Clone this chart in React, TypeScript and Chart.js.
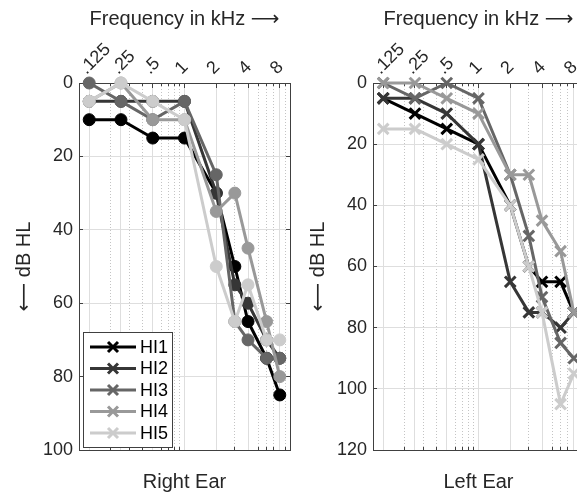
import React, { useEffect, useRef } from 'react';
import { Chart, registerables } from 'chart.js';

Chart.register(...registerables);

// ---------- data ----------
const FREQS = [0.125, 0.25, 0.5, 1, 2, 3, 4, 6, 8];
const MAJOR_TICKS = [0.125, 0.25, 0.5, 1, 2, 4, 8];
const MAJOR_LABELS = ['.125', '.25', '.5', '1', '2', '4', '8'];
const MINOR_TICKS = [0.2, 0.3, 0.4, 0.5, 0.6, 0.7, 0.8, 0.9, 1, 2, 3, 4, 5, 6, 7, 8, 9];
const SERIES = ['HI1', 'HI2', 'HI3', 'HI4', 'HI5'];
const COLORS = ['#000000', '#363636', '#666666', '#999999', '#cccccc'];

// Right Ear (left panel)
const RIGHT_HI1 = [10, 10, 15, 15, 30, 50, 65, 75, 85];
const RIGHT_HI2 = [5, 5, 5, 5, 30, 55, 60, 70, 75];
const RIGHT_HI3 = [0, 5, 10, 5, 25, 65, 70, 75, 75];
const RIGHT_HI4 = [5, 0, 10, 10, 35, 30, 45, 65, 80];
const RIGHT_HI5 = [5, 0, 5, 10, 50, 65, 55, 70, 70];

// Left Ear (right panel)
const LEFT_HI1 = [5, 10, 15, 20, 40, 60, 65, 65, 75];
const LEFT_HI2 = [5, 5, 10, 20, 65, 75, 75, 80, 75];
const LEFT_HI3 = [0, 5, 0, 5, 30, 50, 70, 85, 90];
const LEFT_HI4 = [0, 0, 5, 10, 30, 30, 45, 55, 75];
const LEFT_HI5 = [15, 15, 20, 25, 40, 60, 75, 105, 95];

const X_TITLE = 'Frequency in kHz \u27F6';
const Y_TITLE = '\u27F5 dB HL';

const FONT = "'Liberation Sans', Arial, Helvetica, 'DejaVu Sans', sans-serif";
const TEXT = '#262626';
const AXIS = '#404040';

type Panel = {
  series: number[][];
  yMax: number;
  pointStyle: string;
  pointRadius: number;
  bottomTitle: string;
  yWidth: number;
  yTitlePad: number;
  padRight: number;
  legend: boolean;
};

const LEFT_PANEL: Panel = {
  series: [RIGHT_HI1, RIGHT_HI2, RIGHT_HI3, RIGHT_HI4, RIGHT_HI5],
  yMax: 100,
  pointStyle: 'circle',
  pointRadius: 6,
  bottomTitle: 'Right Ear',
  yWidth: 79,
  yTitlePad: 12,
  padRight: 10,
  legend: true,
};

const RIGHT_PANEL: Panel = {
  series: [LEFT_HI1, LEFT_HI2, LEFT_HI3, LEFT_HI4, LEFT_HI5],
  yMax: 120,
  pointStyle: 'crossRot',
  pointRadius: 7.5,
  bottomTitle: 'Left Ear',
  yWidth: 83,
  yTitlePad: 16,
  padRight: 16,
  legend: false,
};

const boxLegend = {
  id: 'boxLegend',
  afterDraw(chart: any, _args: any, opts: any) {
    if (!opts || !opts.show) return;
    const { ctx, chartArea } = chart;
    const x0 = Math.round(chartArea.left) + 4;
    const w = 89;
    const h = 115;
    const y0 = Math.round(chartArea.bottom) - 3 - h;
    ctx.save();
    ctx.fillStyle = '#ffffff';
    ctx.fillRect(x0, y0, w, h);
    ctx.strokeStyle = AXIS;
    ctx.lineWidth = 1;
    ctx.strokeRect(x0 + 0.5, y0 + 0.5, w, h);
    chart.data.datasets.forEach((ds: any, i: number) => {
      const cy = y0 + 15 + i * 21.5;
      ctx.strokeStyle = ds.borderColor;
      ctx.lineWidth = 3;
      ctx.lineCap = 'butt';
      ctx.beginPath();
      ctx.moveTo(x0 + 7, cy);
      ctx.lineTo(x0 + 53, cy);
      ctx.stroke();
      const cx = x0 + 30;
      const r = 5;
      ctx.beginPath();
      ctx.moveTo(cx - r, cy - r);
      ctx.lineTo(cx + r, cy + r);
      ctx.moveTo(cx - r, cy + r);
      ctx.lineTo(cx + r, cy - r);
      ctx.stroke();
      ctx.fillStyle = '#000000';
      ctx.font = `18px ${FONT}`;
      ctx.textBaseline = 'middle';
      ctx.textAlign = 'left';
      ctx.fillText(ds.label, x0 + 57, cy + 1);
    });
    ctx.restore();
  },
};

function makeConfig(p: Panel): any {
  const tickFont = { family: FONT, size: 18 };
  const titleFont = { family: FONT, size: 20 };
  return {
    type: 'line',
    data: {
      datasets: p.series.map((vals, i) => ({
        label: SERIES[i],
        data: FREQS.map((f, j) => ({ x: f, y: vals[j] })),
        borderColor: COLORS[i],
        backgroundColor: COLORS[i],
        pointBackgroundColor: COLORS[i],
        pointBorderColor: COLORS[i],
        borderWidth: 3,
        borderJoinStyle: 'round',
        pointStyle: p.pointStyle,
        pointRadius: p.pointRadius,
        pointHoverRadius: p.pointRadius,
        pointBorderWidth: p.pointStyle === 'circle' ? 1 : 3,
        tension: 0,
        fill: false,
        clip: false,
        order: 5 - i,
        xAxisID: 'x',
        yAxisID: 'y',
      })),
    },
    plugins: [boxLegend],
    options: {
      responsive: false,
      animation: false,
      events: [],
      layout: { padding: { left: 0, top: 0, bottom: 0, right: p.padRight } },
      plugins: {
        legend: { display: false },
        tooltip: { enabled: false },
        title: { display: false },
        boxLegend: { show: p.legend },
      },
      scales: {
        xMinor: {
          type: 'logarithmic',
          position: 'bottom',
          min: 0.1,
          max: 10,
          afterBuildTicks: (s: any) => {
            s.ticks = MINOR_TICKS.map((v) => ({ value: v }));
          },
          ticks: { display: false, autoSkip: false },
          grid: {
            color: '#c4c4c4',
            lineWidth: 1,
            drawTicks: true,
            tickLength: -3,
            tickColor: AXIS,
            tickWidth: 1,
            z: -2,
          },
          border: { display: true, color: AXIS, width: 1, dash: [1, 2] },
          title: {
            display: true,
            text: p.bottomTitle,
            font: titleFont,
            color: TEXT,
            padding: { top: 0, bottom: 0 },
          },
          afterFit: (s: any) => {
            s.height = 44;
          },
        },
        xMinorTop: {
          type: 'logarithmic',
          position: 'top',
          min: 0.1,
          max: 10,
          afterBuildTicks: (s: any) => {
            s.ticks = MINOR_TICKS.map((v) => ({ value: v }));
          },
          ticks: { display: false, autoSkip: false },
          grid: {
            drawOnChartArea: false,
            drawTicks: true,
            tickLength: -3,
            tickColor: AXIS,
            tickWidth: 1,
          },
          border: { display: false },
          afterFit: (s: any) => {
            s.height = 0;
          },
        },
        x: {
          type: 'logarithmic',
          position: 'top',
          min: 0.1,
          max: 10,
          afterBuildTicks: (s: any) => {
            s.ticks = MAJOR_TICKS.map((v) => ({ value: v }));
          },
          ticks: {
            autoSkip: false,
            minRotation: 45,
            maxRotation: 45,
            font: tickFont,
            color: TEXT,
            padding: 9,
            labelOffset: 9,
            callback: (_v: any, i: number) => MAJOR_LABELS[i],
          },
          grid: {
            color: '#dedede',
            lineWidth: 1,
            drawTicks: true,
            tickLength: -5,
            tickColor: AXIS,
            tickWidth: 1,
          },
          border: { display: true, color: AXIS, width: 1 },
          title: {
            display: true,
            text: X_TITLE,
            font: titleFont,
            color: TEXT,
            padding: { top: 7, bottom: 0 },
          },
          afterFit: (s: any) => {
            s.height = 83;
          },
        },
        y: {
          type: 'linear',
          position: 'left',
          reverse: true,
          min: 0,
          max: p.yMax,
          ticks: { stepSize: 20, font: tickFont, color: TEXT, padding: 10 },
          grid: {
            color: '#dedede',
            lineWidth: 1,
            drawTicks: true,
            tickLength: -4,
            tickColor: AXIS,
            tickWidth: 1,
          },
          border: { display: true, color: AXIS, width: 1 },
          title: {
            display: true,
            text: Y_TITLE,
            font: titleFont,
            color: TEXT,
            padding: { top: p.yTitlePad, bottom: 0 },
          },
          afterFit: (s: any) => {
            s.width = p.yWidth;
          },
        },
        yRight: {
          type: 'linear',
          position: 'right',
          reverse: true,
          min: 0,
          max: p.yMax,
          ticks: { display: false, stepSize: 20 },
          grid: {
            drawOnChartArea: false,
            drawTicks: true,
            tickLength: -4,
            tickColor: AXIS,
            tickWidth: 1,
          },
          border: { display: true, color: AXIS, width: 1 },
          afterFit: (s: any) => {
            s.width = 0;
          },
        },
      },
    },
  };
}

export default function App() {
  const leftRef = useRef<HTMLCanvasElement>(null);
  const rightRef = useRef<HTMLCanvasElement>(null);

  useEffect(() => {
    document.body.style.margin = '0';
    const c1 = new Chart(leftRef.current as HTMLCanvasElement, makeConfig(LEFT_PANEL));
    const c2 = new Chart(rightRef.current as HTMLCanvasElement, makeConfig(RIGHT_PANEL));
    return () => {
      c1.destroy();
      c2.destroy();
    };
  }, []);

  return (
    <div
      style={{
        position: 'fixed',
        left: 0,
        top: 0,
        width: 577,
        height: 494,
        overflow: 'hidden',
        background: '#ffffff',
      }}
    >
      <canvas
        ref={leftRef}
        width={300}
        height={494}
        style={{ position: 'absolute', left: 0, top: 0, width: 300, height: 494 }}
      />
      <canvas
        ref={rightRef}
        width={310}
        height={494}
        style={{ position: 'absolute', left: 290, top: 0, width: 310, height: 494 }}
      />
    </div>
  );
}
